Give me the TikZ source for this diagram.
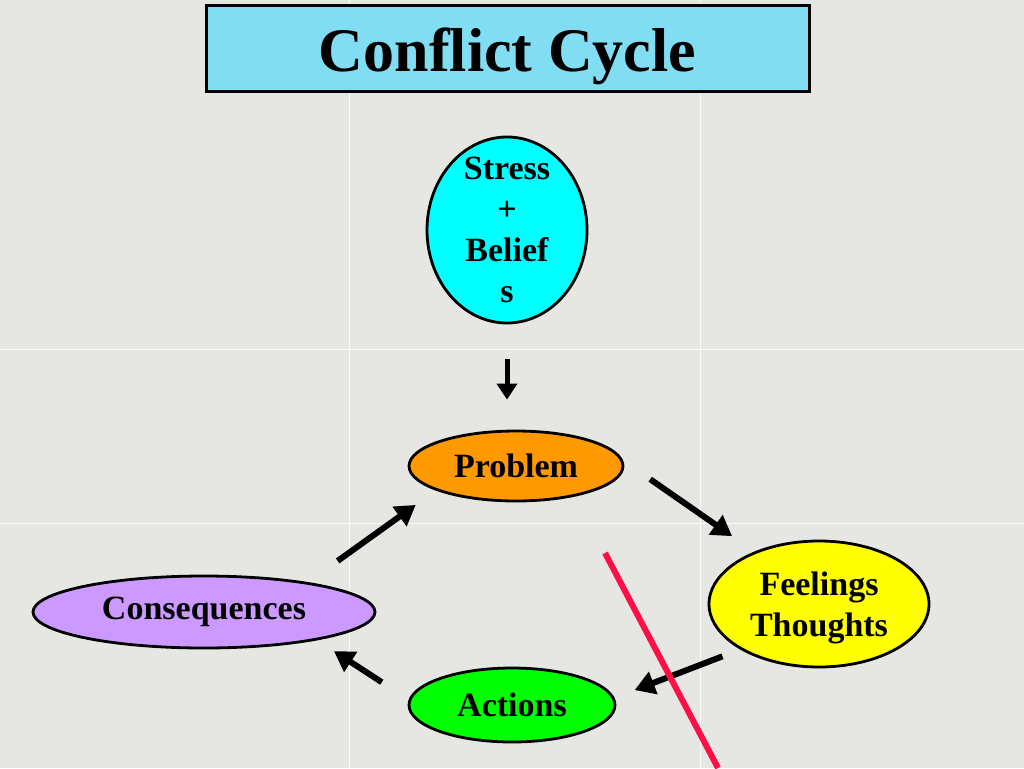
\documentclass[tikz,border=0pt]{standalone}
\usepackage{fontspec}
\setmainfont{Liberation Serif}
\usetikzlibrary{shapes.geometric,arrows.meta}
\definecolor{bgc}{HTML}{E6E6E3}
\definecolor{titlec}{HTML}{80DDF2}
\definecolor{stressc}{HTML}{00FFFF}
\definecolor{probc}{HTML}{FF9900}
\definecolor{feelc}{HTML}{FFFF00}
\definecolor{actc}{HTML}{00FF00}
\definecolor{consc}{HTML}{CC99FF}
\definecolor{redc}{HTML}{FF0F45}
\tikzset{
  bubble/.style={ellipse, draw=black, line width=2.8pt, inner sep=0pt,
    font=\fontsize{34}{41}\selectfont\bfseries, align=center},
  arr/.style={line width=6pt, -{Triangle[length=20pt,width=23pt]}},
  seam/.style={white, line width=1pt, opacity=0.8}
}
\begin{document}
\begin{tikzpicture}[x=1pt,y=-1pt]
\fill[bgc] (0,0) rectangle (1024,768);
\useasboundingbox (0,0) rectangle (1024,768);
% faint texture seams
\draw[seam] (349,0) -- (349,768);
\draw[seam] (700,0) -- (700,768);
\draw[seam] (0,349) -- (1024,349);
\draw[seam] (0,523) -- (1024,523);
% title
\node[draw=black, line width=3pt, fill=titlec, minimum width=603pt, minimum height=85pt,
  inner sep=0pt, text height=46pt, text depth=0pt,
  font=\fontsize{62}{62}\selectfont\bfseries] (title) at (507.5,48.5) {Conflict Cycle};
% nodes
\node[bubble, fill=stressc, minimum width=160pt, minimum height=186pt, inner ysep=-13pt] (stress) at (507,230)
  {Stress\\+\\Belief\\s};
\node[bubble, fill=probc, minimum width=214pt, minimum height=70pt] (prob) at (516,466) {Problem};
\node[bubble, fill=feelc, minimum width=220pt, minimum height=126pt, text depth=0pt] (feel) at (819,604) {Feelings\\Thoughts};
\node[bubble, fill=actc, minimum width=206pt, minimum height=74pt] (act) at (512,705) {Actions};
\node[bubble, fill=consc, minimum width=342pt, minimum height=72pt] (cons) at (204,612) {Consequences};
% connectors
\draw[arr, line width=5pt, -{Triangle[length=16pt,width=20pt]}, shorten <=35pt, shorten >=30pt] (stress.south) -- (stress.south |- prob.north);
\draw[arr, shorten <=33pt, shorten >=27pt] (prob.3.7) -- (feel.141.1);
\draw[arr, shorten <=19pt, shorten >=21.5pt] (feel.210.8) -- (act.4.3);
\draw[arr, shorten <=32pt, shorten >=20pt] (act.177.5) -- (cons.346.5);
\draw[arr, shorten <=36.5pt, shorten >=24.7pt] (cons.16.6) -- (prob.197.3);
% red slash
\coordinate (r1) at (605,553);
\coordinate (r2) at (718,768);
\draw[redc, line width=6pt] (r1) -- (r2);
\end{tikzpicture}
\end{document}
